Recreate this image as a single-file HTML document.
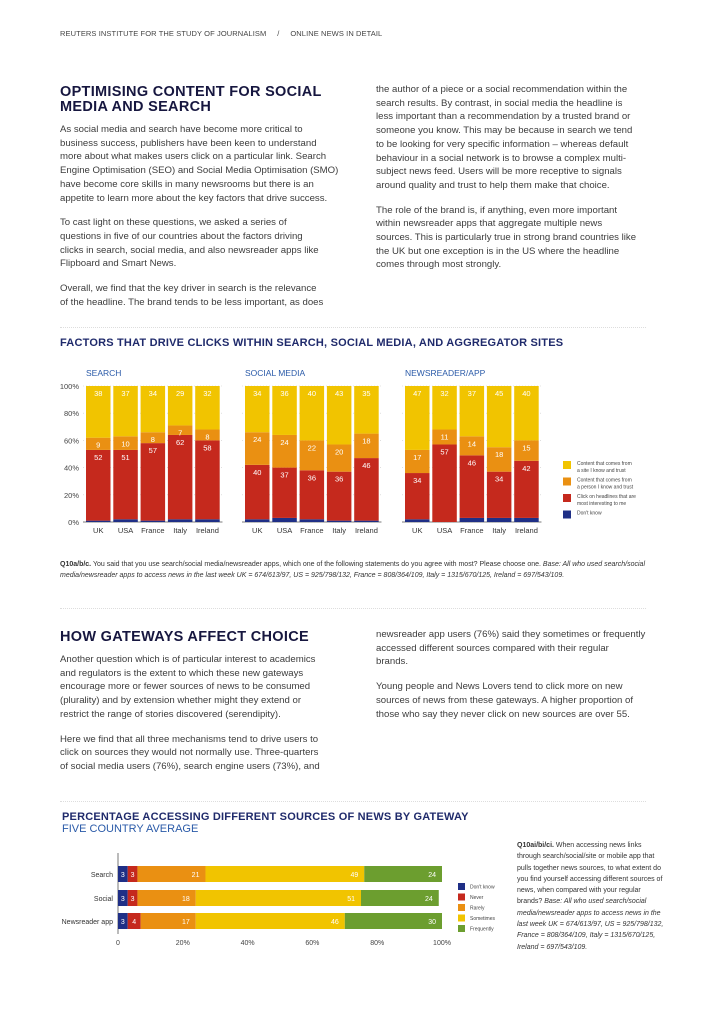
<!DOCTYPE html>
<html><head><meta charset="utf-8"><style>
body{margin:0;width:724px;height:1024px;background:#fff;position:relative;overflow:hidden;font-family:"Liberation Sans",sans-serif;color:#3a3a3a}
.a{position:absolute}
.hdr{font-size:7.5px;color:#444;letter-spacing:.1px}
.h1{font-size:14.5px;font-weight:bold;color:#16163f;line-height:15px;letter-spacing:.3px}
.p{font-size:9.6px;line-height:13.7px;color:#3c3c3c;white-space:nowrap}
.p div{margin-bottom:11px}
.ct{font-size:11px;font-weight:bold;color:#1f2a6b;letter-spacing:.2px}
.sep{position:absolute;height:0;border-top:1px dotted #ddd}
.cap{font-size:7px;line-height:10.5px;color:#333}
</style></head><body>
<div class="a hdr" style="left:60px;top:29px">REUTERS INSTITUTE FOR THE STUDY OF JOURNALISM &nbsp;&nbsp;&nbsp;&nbsp;/ &nbsp;&nbsp;&nbsp;&nbsp;ONLINE NEWS IN DETAIL</div>

<div class="a h1" style="left:60px;top:85px">OPTIMISING CONTENT FOR SOCIAL<br>MEDIA AND SEARCH</div>
<div class="a p" style="left:60px;top:123px"><div>As social media and search have become more critical to<br>business success, publishers have been keen to understand<br>more about what makes users click on a particular link. Search<br>Engine Optimisation (SEO) and Social Media Optimisation (SMO)<br>have become core skills in many newsrooms but there is an<br>appetite to learn more about the key factors that drive success.</div><div>To cast light on these questions, we asked a series of<br>questions in five of our countries about the factors driving<br>clicks in search, social media, and also newsreader apps like<br>Flipboard and Smart News.</div><div>Overall, we find that the key driver in search is the relevance<br>of the headline. The brand tends to be less important, as does</div></div>
<div class="a p" style="left:376px;top:83px"><div>the author of a piece or a social recommendation within the<br>search results. By contrast, in social media the headline is<br>less important than a recommendation by a trusted brand or<br>someone you know. This may be because in search we tend<br>to be looking for very specific information – whereas default<br>behaviour in a social network is to browse a complex multi-<br>subject news feed. Users will be more receptive to signals<br>around quality and trust to help them make that choice.</div><div>The role of the brand is, if anything, even more important<br>within newsreader apps that aggregate multiple news<br>sources. This is particularly true in strong brand countries like<br>the UK but one exception is in the US where the headline<br>comes through most strongly.</div></div>

<div class="sep" style="left:60px;width:586px;top:327px"></div>
<div class="a ct" style="left:60px;top:337px">FACTORS THAT DRIVE CLICKS WITHIN SEARCH, SOCIAL MEDIA, AND AGGREGATOR SITES</div>

<svg class="a" style="left:0;top:0" width="724" height="1024" id="svg1"></svg>

<div class="a cap" style="left:60px;top:560px;width:600px"><b>Q10a/b/c.</b> You said that you use search/social media/newsreader apps, which one of the following statements do you agree with most? Please choose one. <i>Base: All who used search/social media/newsreader apps to access news in the last week UK = 674/613/97, US = 925/798/132, France = 808/364/109, Italy = 1315/670/125, Ireland = 697/543/109.</i></div>

<div class="sep" style="left:60px;width:586px;top:608px"></div>
<div class="a h1" style="left:60px;top:630px">HOW GATEWAYS AFFECT CHOICE</div>
<div class="a p" style="left:60px;top:653px"><div>Another question which is of particular interest to academics<br>and regulators is the extent to which these new gateways<br>encourage more or fewer sources of news to be consumed<br>(plurality) and by extension whether might they extend or<br>restrict the range of stories discovered (serendipity).</div><div>Here we find that all three mechanisms tend to drive users to<br>click on sources they would not normally use. Three-quarters<br>of social media users (76%), search engine users (73%), and</div></div>
<div class="a p" style="left:376px;top:628px"><div>newsreader app users (76%) said they sometimes or frequently<br>accessed different sources compared with their regular<br>brands.</div><div>Young people and News Lovers tend to click more on new<br>sources of news from these gateways. A higher proportion of<br>those who say they never click on new sources are over 55.</div></div>

<div class="sep" style="left:60px;width:586px;top:801px"></div>
<div class="a ct" style="left:62px;top:811px">PERCENTAGE ACCESSING DIFFERENT SOURCES OF NEWS BY GATEWAY</div>
<div class="a" style="left:62px;top:823px;font-size:11px;color:#2a5aa8">FIVE COUNTRY AVERAGE</div>
<div class="a cap" style="left:517px;top:840px;width:150px;line-height:11.3px"><b>Q10ai/bi/ci.</b> When accessing news links through search/social/site or mobile app that pulls together news sources, to what extent do you find yourself accessing different sources of news, when compared with your regular brands? <i>Base: All who used search/social media/newsreader apps to access news in the last week UK = 674/613/97, US = 925/798/132, France = 808/364/109, Italy = 1315/670/125, Ireland = 697/543/109.</i></div>

<script>
const countries=["UK","USA","France","Italy","Ireland"];
const panels=["SEARCH","SOCIAL MEDIA","NEWSREADER/APP"];
const dontKnow=[[1,2,1,2,2],[2,3,2,1,1],[2,0,3,3,3]];
const headline=[[52,51,57,62,58],[40,37,36,36,46],[34,57,46,34,42]];
const person=[[9,10,8,7,8],[24,24,22,20,18],[17,11,14,18,15]];
const site=[[38,37,34,29,32],[34,36,40,43,35],[47,32,37,45,40]];
const yTicks=[0,20,40,60,80,100];
const legend1=[["Content that comes from","a site I know and trust"],["Content that comes from","a person I know and trust"],["Click on headlines that are","most interesting to me"],["Don't know"]];
const gateways=["Search","Social","Newsreader app"];
const g_dk=[3,3,3],g_never=[3,3,4],g_rarely=[21,18,17],g_some=[49,51,46],g_freq=[24,24,30];
const xTicks=[0,20,40,60,80,100];
const legend2=["Don't know","Never","Rarely","Sometimes","Frequently"];

const C={navy:"#1f2f86",red:"#c5291d",orange:"#ea9012",yellow:"#f1c400",green:"#6c9e2f"};
const svg=document.getElementById('svg1');const NS="http://www.w3.org/2000/svg";
function mk(t,at,txt){const e=document.createElementNS(NS,t);for(const k in at)e.setAttribute(k,at[k]);if(txt!=null)e.textContent=txt;svg.appendChild(e);return e;}
// chart 1
const y0=522,y1=386;const y=v=>y0-(y1-y0)*-v/100;
const panelX=[86,245,405],bw=24.5,step=27.3;
yTicks.forEach(t=>{
 const e=mk('text',{x:79,y:y(t)+3,'font-size':7.5,'text-anchor':'end',fill:'#444'},t+'%');
 
 
 [0,1,2].forEach(p=>{mk('line',{x1:panelX[p]-3,x2:panelX[p]+5*step,y1:y(t),y2:y(t),stroke:'#ccc','stroke-dasharray':'1,2','stroke-width':.6});});
});
panels.forEach((pn,p)=>{
 const t=mk('text',{x:panelX[p],y:376,'font-size':8.5,fill:'#2a5aa8'},pn);
 
 
 mk('line',{x1:panelX[p]-3,x2:panelX[p]+5*step,y1:y0,y2:y0,stroke:'#555','stroke-width':.8});
 countries.forEach((c,i)=>{
  const x=panelX[p]+i*step;let acc=0;
  const segs=[[dontKnow[p][i],C.navy,false],[headline[p][i],C.red,true],[person[p][i],C.orange,true],[site[p][i],C.yellow,true]];
  segs.forEach((s,k)=>{
   const top=k==3?100:acc+s[0];
   const r=mk('rect',{x:x,y:y(top),width:bw,height:y(acc)-y(top),fill:s[1]});
   
   
   if(s[2]&&s[0]>0){const l=mk('text',{x:x+bw/2,y:y(top)+10,'font-size':7.5,'text-anchor':'middle',fill:'#fff'},s[0]);
    
    }
   acc=top;
  });
  const xl=mk('text',{x:x+bw/2,y:533,'font-size':7.5,'text-anchor':'middle',fill:'#333'},c);
  
  
 });
});
const lc1=[C.yellow,C.orange,C.red,C.navy];
legend1.forEach((l,i)=>{
 const yy=461+i*16.5;
 const r=mk('rect',{x:563,y:yy,width:8,height:8,fill:lc1[i]});
 
 
 l.forEach((ln,j)=>{mk('text',{x:577,y:yy+4+j*7,'font-size':5,fill:'#444'},ln);});
});
// chart 2
const ax0=118,ax1=442;const xs=v=>ax0+(ax1-ax0)*v/100;
const rowY=[866,890,913],bh=16;
xTicks.forEach(t=>{const e=mk('text',{x:xs(t),y:945,'font-size':7,'text-anchor':'middle',fill:'#444'},t===0?'0':t+'%');
 
 });
mk('line',{x1:ax0,x2:ax0,y1:853,y2:934,stroke:'#555','stroke-width':.8});
const series2=[g_dk,g_never,g_rarely,g_some,g_freq],lc2=[C.navy,C.red,C.orange,C.yellow,C.green];
gateways.forEach((g,i)=>{
 let acc=0;
 series2.forEach((s,k)=>{
  const v=s[i];const r=mk('rect',{x:xs(acc),y:rowY[i],width:xs(acc+v)-xs(acc),height:bh,fill:lc2[k]});
  
  
  const tx=k<2?xs(acc+v/2):xs(acc+v)-6;
  const l=mk('text',{x:tx,y:rowY[i]+11,'font-size':7,'text-anchor':k<2?'middle':'end',fill:'#fff'},v);
  
  
  acc+=v;
 });
 const gl=mk('text',{x:113,y:rowY[i]+11,'font-size':7,'text-anchor':'end',fill:'#333'},g);
 
 
});
legend2.forEach((l,i)=>{
 const yy=883+i*10.5;
 const r=mk('rect',{x:458,y:yy,width:7,height:7,fill:lc2[i]});
 
 
 mk('text',{x:470,y:yy+5.5,'font-size':5,fill:'#444'},l);
});
</script>
</body></html>
